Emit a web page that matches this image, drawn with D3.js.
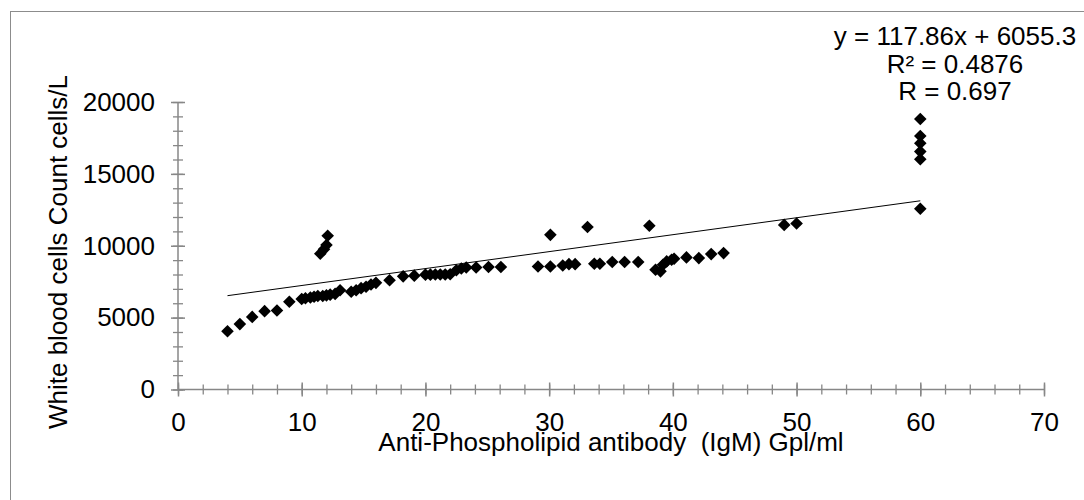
<!DOCTYPE html>
<html>
<head>
<meta charset="utf-8">
<script src="https://cdn.jsdelivr.net/npm/d3@7"></script>
<style>
  html, body { margin: 0; padding: 0; background: #ffffff; }
  svg { display: block; }
  text { font-family: "Liberation Sans", Arial, sans-serif; fill: #000; }
</style>
</head>
<body>
<svg id="chart" width="1084" height="500"></svg>
<script>
// ---- data ----
const xValues = [4, 5, 6, 7, 8, 9, 10, 10.3, 10.7, 11, 11.3, 11.7, 12, 12.3, 12.7, 13.1,
  11.5, 11.8, 12, 12.1,
  14, 14.4, 14.8, 15.2, 15.6, 16, 17.1, 18.2, 19.1,
  20, 20.4, 20.8, 21.2, 21.6, 22, 22.5, 22.9, 23.3, 24.1, 25.1, 26.1,
  29.1, 30.1, 30.1, 31.1, 31.6, 32.1, 33.1, 33.65, 34.1, 35.1, 36.1, 37.2,
  38.1, 38.6, 39, 39.2, 39.5, 39.9, 40.1, 41.1, 42.1, 43.1, 44.1,
  49, 50, 60, 60, 60, 60, 60, 60];
const yValues = [4050, 4550, 5050, 5450, 5500, 6100, 6300, 6350, 6400, 6450, 6500, 6500, 6550, 6600, 6650, 6900,
  9450, 9750, 10050, 10700,
  6800, 6900, 7050, 7150, 7300, 7420, 7600, 7870, 7920,
  7990, 7990, 8000, 8000, 8000, 8020, 8300, 8420, 8490, 8490, 8520, 8520,
  8560, 8560, 10760, 8630, 8720, 8720, 11300, 8750, 8750, 8870, 8870, 8870,
  11390, 8330, 8220, 8680, 8910, 9030, 9100, 9190, 9140, 9420, 9490,
  11450, 11550, 12570, 16020, 16550, 17130, 17640, 18820];

const xTicksMajor = [0, 10, 20, 30, 40, 50, 60, 70];
const xTicksMinor = d3.range(0, 70.001, 2);
const yTicksMajor = [0, 5000, 10000, 15000, 20000];
const yTicksMinor = d3.range(0, 20001, 1000);

const trendSlope = 117.86;
const trendIntercept = 6055.3;
const annotationLines = ["y = 117.86x + 6055.3", "R\u00B2 = 0.4876", "R = 0.697"];

const xTitle = "Anti-Phospholipid antibody\u00A0\u00A0(IgM) Gpl/ml";
const yTitle = "White blood cells Count cells/L";

// ---- drawing ----
const svg = d3.select("#chart");
const axisColor = "#878787";
const fontSize = 26;

// outer chart border (cropped at right & bottom)
svg.append("rect")
  .attr("x", 10.5).attr("y", 11.5)
  .attr("width", 1200).attr("height", 600)
  .attr("fill", "none").attr("stroke", "#8c8c8c").attr("stroke-width", 1);

const x = d3.scaleLinear().domain([0, 70]).range([178, 1044]);
const y = d3.scaleLinear().domain([0, 20000]).range([389.5, 102]);

// minor ticks, crossing the axis
svg.append("g")
  .attr("transform", `translate(0,${y(0) - 5})`)
  .call(d3.axisBottom(x).tickValues(xTicksMinor).tickSize(10).tickSizeOuter(0).tickFormat(""))
  .call(g => g.select(".domain").remove())
  .call(g => g.selectAll("line").attr("stroke", axisColor).attr("stroke-width", 1.3));
svg.append("g")
  .attr("transform", `translate(${x(0) + 5},0)`)
  .call(d3.axisLeft(y).tickValues(yTicksMinor).tickSize(10).tickSizeOuter(0).tickFormat(""))
  .call(g => g.select(".domain").remove())
  .call(g => g.selectAll("line").attr("stroke", axisColor).attr("stroke-width", 1.3));

// major ticks, crossing the axis
svg.append("g")
  .attr("transform", `translate(0,${y(0) - 7})`)
  .call(d3.axisBottom(x).tickValues(xTicksMajor).tickSize(14).tickSizeOuter(0).tickFormat(""))
  .call(g => g.select(".domain").remove())
  .call(g => g.selectAll("line").attr("stroke", axisColor).attr("stroke-width", 1.5));
svg.append("g")
  .attr("transform", `translate(${x(0) + 7},0)`)
  .call(d3.axisLeft(y).tickValues(yTicksMajor).tickSize(14).tickSizeOuter(0).tickFormat(""))
  .call(g => g.select(".domain").remove())
  .call(g => g.selectAll("line").attr("stroke", axisColor).attr("stroke-width", 1.5));

// axis lines
svg.append("line")
  .attr("x1", x(0)).attr("x2", x(70)).attr("y1", y(0)).attr("y2", y(0))
  .attr("stroke", axisColor).attr("stroke-width", 1.5);
svg.append("line")
  .attr("x1", x(0)).attr("x2", x(0)).attr("y1", y(0)).attr("y2", y(20000))
  .attr("stroke", axisColor).attr("stroke-width", 1.5);

// tick labels
svg.append("g")
  .attr("transform", `translate(0,${y(0)})`)
  .call(d3.axisBottom(x).tickValues(xTicksMajor).tickSize(0).tickPadding(23).tickFormat(d3.format("d")))
  .call(g => g.select(".domain").remove())
  .call(g => g.selectAll("text").attr("font-size", fontSize)
    .attr("font-family", "'Liberation Sans', Arial, sans-serif").attr("fill", "#000"));
svg.append("g")
  .attr("transform", `translate(${x(0)},0)`)
  .call(d3.axisLeft(y).tickValues(yTicksMajor).tickSize(0).tickPadding(23).tickFormat(d3.format("d")))
  .call(g => g.select(".domain").remove())
  .call(g => g.selectAll("text").attr("font-size", fontSize)
    .attr("font-family", "'Liberation Sans', Arial, sans-serif").attr("fill", "#000"));

// trend line
const xExtent = d3.extent(xValues);
svg.append("line")
  .attr("x1", x(xExtent[0])).attr("y1", y(trendSlope * xExtent[0] + trendIntercept))
  .attr("x2", x(xExtent[1])).attr("y2", y(trendSlope * xExtent[1] + trendIntercept))
  .attr("stroke", "#000").attr("stroke-width", 1);

// diamond markers
const r = 6.3;
const diamond = `M0,${-r}L${r},0L0,${r}L${-r},0Z`;
svg.append("g").selectAll("path")
  .data(xValues.map((d, i) => [d, yValues[i]]))
  .join("path")
  .attr("d", diamond)
  .attr("transform", d => `translate(${x(d[0])},${y(d[1])})`)
  .attr("fill", "#000");

// annotation
svg.append("g").selectAll("text")
  .data(annotationLines)
  .join("text")
  .attr("x", 955)
  .attr("y", (d, i) => 45 + i * 27.5)
  .attr("text-anchor", "middle")
  .attr("font-size", fontSize)
  .text(d => d);

// axis titles
svg.append("text")
  .attr("x", 611).attr("y", 451)
  .attr("text-anchor", "middle")
  .attr("font-size", fontSize)
  .text(xTitle);
svg.append("text")
  .attr("transform", "translate(67,252) rotate(-90)")
  .attr("text-anchor", "middle")
  .attr("font-size", fontSize)
  .text(yTitle);
</script>
</body>
</html>
